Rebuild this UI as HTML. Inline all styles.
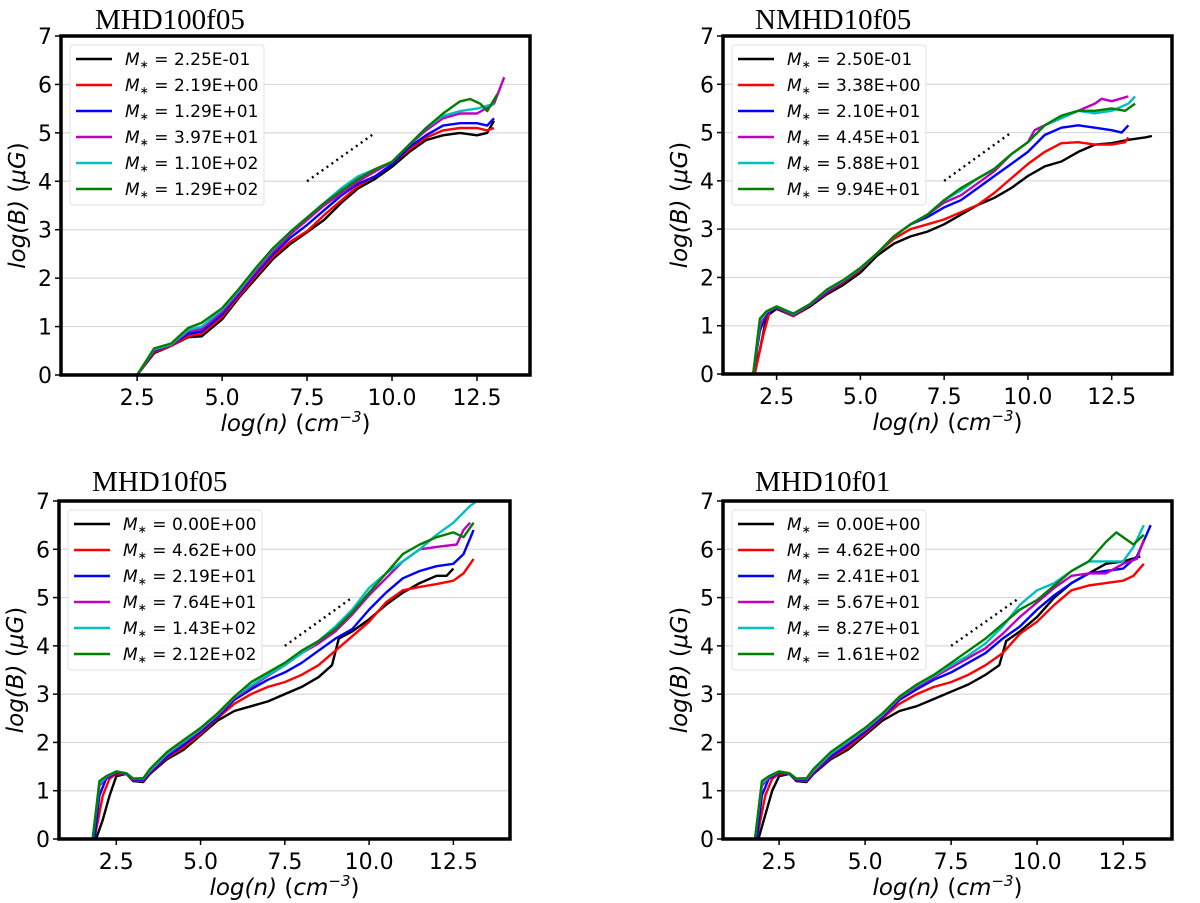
<!DOCTYPE html>
<html><head><meta charset="utf-8"><style>
html,body{margin:0;padding:0;background:#fff;}
svg{display:block;}
</style></head><body>
<svg id="fig" width="1200" height="903" viewBox="0 0 1200 903" xmlns="http://www.w3.org/2000/svg"></svg>
<script>
// ---------- data ----------
const yTicks = [0,1,2,3,4,5,6,7];
const xTickLabels = ["2.5","5.0","7.5","10.0","12.5"];
const xTicks = [2.5,5.0,7.5,10.0,12.5];
const colors = ["#000000","#ff0000","#0000ff","#bf00bf","#00bfbf","#008000"];
const panelTitles = ["MHD100f05","NMHD10f05","MHD10f05","MHD10f01"];
const legendTL = ["2.25E-01","2.19E+00","1.29E+01","3.97E+01","1.10E+02","1.29E+02"];
const legendTR = ["2.50E-01","3.38E+00","2.10E+01","4.45E+01","5.88E+01","9.94E+01"];
const legendBL = ["0.00E+00","4.62E+00","2.19E+01","7.64E+01","1.43E+02","2.12E+02"];
const legendBR = ["0.00E+00","4.62E+00","2.41E+01","5.67E+01","8.27E+01","1.61E+02"];
const slopeLineX = [7.5, 9.5];
const slopeLineY = [4, 5];

// Top-left series
const tl_x = [2.5,3.0,3.5,4.0,4.4,5.0,5.5,6.0,6.5,7.0,7.5,8.0,8.5,9.0,9.5,10,10.5,11,11.5,12,12.5,12.8,13.0];
const tl_black = [0,0.45,0.6,0.78,0.8,1.15,1.6,2.0,2.4,2.7,2.95,3.2,3.55,3.85,4.05,4.3,4.6,4.85,4.95,5.0,4.95,5.0,5.25];
const tl_red   = [0,0.47,0.6,0.8,0.85,1.2,1.63,2.05,2.45,2.75,2.97,3.3,3.6,3.9,4.1,4.35,4.65,4.9,5.05,5.1,5.1,5.05,5.1];
const tl_blue  = [0,0.5,0.62,0.85,0.9,1.25,1.68,2.1,2.5,2.83,3.1,3.4,3.7,3.95,4.1,4.35,4.7,4.95,5.15,5.2,5.2,5.15,5.3];
const tl_mag_x = [2.5,3.0,3.5,4.0,4.4,5.0,5.5,6.0,6.5,7.0,7.5,8.0,8.5,9.0,9.5,10,10.5,11,11.5,12,12.5,13.0,13.3];
const tl_mag   = [0,0.52,0.62,0.9,0.95,1.3,1.72,2.15,2.55,2.9,3.2,3.5,3.75,4.0,4.2,4.4,4.75,5.05,5.3,5.4,5.4,5.6,6.15];
const tl_cyan_x= [2.5,3.0,3.5,4.0,4.4,5.0,5.5,6.0,6.5,7.0,7.5,8.0,8.5,9.0,9.5,10,10.5,11,11.5,12,12.5,13.0];
const tl_cyan  = [0,0.53,0.63,0.93,1.0,1.35,1.75,2.2,2.6,2.95,3.25,3.55,3.85,4.1,4.25,4.4,4.75,5.1,5.35,5.45,5.5,5.6];
const tl_green_x=[2.5,3.0,3.5,4.0,4.4,5.0,5.5,6.0,6.5,7.0,7.5,8.0,8.5,9.0,9.5,10,10.5,11,11.5,12,12.3,12.6,12.8,13.1];
const tl_green = [0,0.55,0.65,0.97,1.08,1.38,1.78,2.22,2.62,2.95,3.25,3.55,3.8,4.05,4.25,4.4,4.75,5.1,5.4,5.65,5.7,5.6,5.45,5.8];

// Top-right series
const tr_bx = [1.8,2.0,2.2,2.5,3.0,3.5,4,4.5,5,5.5,6,6.5,7,7.5,8,8.5,9,9.5,10,10.5,11,11.5,12,12.5,13,13.5,13.7];
const tr_black = [0,0.5,1.2,1.35,1.2,1.4,1.65,1.85,2.1,2.45,2.7,2.85,2.95,3.1,3.3,3.5,3.65,3.85,4.1,4.3,4.4,4.6,4.75,4.78,4.85,4.9,4.93];
const tr_rx = [1.85,2.1,2.3,2.5,3.0,3.5,4,4.5,5,5.5,6,6.5,7,7.5,8,8.5,9,9.5,10,10.5,11,11.5,12,12.5,12.9,13.0];
const tr_red   = [0,0.8,1.3,1.37,1.2,1.42,1.68,1.9,2.15,2.5,2.8,3.0,3.1,3.2,3.35,3.5,3.75,4.05,4.35,4.6,4.78,4.8,4.75,4.75,4.8,4.9];
const tr_ux = [1.8,2.0,2.2,2.5,3.0,3.5,4,4.5,5,5.5,6,6.5,7,7.5,8,8.5,9,9.5,10,10.5,11,11.5,12,12.5,12.8,13.0];
const tr_blue  = [0,0.9,1.25,1.38,1.22,1.43,1.7,1.92,2.17,2.5,2.85,3.1,3.25,3.45,3.6,3.85,4.1,4.35,4.6,4.95,5.1,5.15,5.1,5.05,5.0,5.15];
const tr_mx = [1.8,2.0,2.2,2.5,3.0,3.5,4,4.5,5,5.5,6,6.5,7,7.5,8,8.5,9,9.5,10,10.2,10.5,11,11.5,12,12.2,12.5,13.0];
const tr_mag   = [0,1.0,1.28,1.39,1.23,1.44,1.72,1.93,2.18,2.5,2.85,3.1,3.3,3.55,3.7,3.95,4.2,4.55,4.8,5.05,5.15,5.3,5.45,5.6,5.7,5.65,5.75];
const tr_cx = [1.8,2.0,2.2,2.5,3.0,3.5,4,4.5,5,5.5,6,6.5,7,7.5,8,8.5,9,9.5,10,10.5,11,11.5,12,12.5,13.0,13.2];
const tr_cyan  = [0,1.1,1.29,1.4,1.24,1.45,1.74,1.94,2.19,2.5,2.85,3.1,3.3,3.6,3.8,4.05,4.25,4.55,4.8,5.15,5.3,5.45,5.4,5.45,5.6,5.75];
const tr_gx = [1.8,2.0,2.2,2.5,3.0,3.5,4,4.5,5,5.5,6,6.5,7,7.5,8,8.5,9,9.5,10,10.5,11,11.5,12,12.5,12.9,13.2];
const tr_green = [0,1.15,1.3,1.4,1.25,1.45,1.75,1.95,2.2,2.5,2.85,3.1,3.3,3.6,3.85,4.05,4.25,4.55,4.8,5.15,5.35,5.45,5.45,5.5,5.45,5.6];

// Bottom-left series
const bl_bx = [1.9,2.1,2.3,2.5,2.8,3.0,3.3,3.5,4,4.5,5,5.5,6,6.5,7,7.5,8,8.5,8.9,9.1,9.5,10,10.5,11,11.5,12,12.3,12.5];
const bl_black = [0,0.4,0.9,1.3,1.35,1.2,1.18,1.35,1.65,1.85,2.15,2.45,2.65,2.75,2.85,3.0,3.15,3.35,3.6,4.15,4.3,4.55,4.85,5.1,5.3,5.45,5.45,5.6];
const bl_rx = [1.85,2.1,2.3,2.5,2.8,3.0,3.3,3.5,4,4.5,5,5.5,6,6.5,7,7.5,8,8.5,9,9.5,10,10.5,11,11.5,12,12.5,12.8,13.1];
const bl_red   = [0,0.9,1.25,1.35,1.35,1.22,1.2,1.37,1.68,1.9,2.18,2.5,2.8,3.0,3.15,3.25,3.4,3.6,3.9,4.2,4.5,4.9,5.15,5.22,5.28,5.35,5.5,5.8];
const bl_ux = [1.85,2.0,2.2,2.5,2.8,3.0,3.3,3.5,4,4.5,5,5.5,6,6.5,7,7.5,8,8.5,9,9.5,10,10.5,11,11.5,12,12.5,12.8,13.1];
const bl_blue  = [0,0.9,1.25,1.37,1.35,1.23,1.22,1.38,1.7,1.95,2.22,2.52,2.88,3.1,3.3,3.45,3.65,3.9,4.15,4.35,4.75,5.1,5.4,5.55,5.65,5.7,5.9,6.4];
const bl_mx = [1.8,2.0,2.2,2.5,2.8,3.0,3.3,3.5,4,4.5,5,5.5,6,6.5,7,7.5,8,8.5,9,9.5,10,10.5,11,11.5,12,12.6,12.8,13.0];
const bl_mag   = [0,1.1,1.28,1.39,1.36,1.24,1.24,1.4,1.75,2.0,2.26,2.56,2.92,3.15,3.38,3.6,3.85,4.05,4.3,4.65,5.05,5.4,5.75,6.0,6.05,6.1,6.4,6.55];
const bl_cx = [1.8,2.0,2.2,2.5,2.8,3.0,3.3,3.5,4,4.5,5,5.5,6,6.5,7,7.5,8,8.5,9,9.5,10,10.5,11,11.5,12,12.5,13.0,13.2];
const bl_cyan  = [0,1.15,1.29,1.4,1.36,1.25,1.25,1.42,1.77,2.02,2.28,2.58,2.94,3.18,3.4,3.6,3.85,4.1,4.4,4.75,5.2,5.5,5.75,6.0,6.3,6.55,6.9,7.0];
const bl_gx = [1.8,2.0,2.2,2.5,2.8,3.0,3.3,3.5,4,4.5,5,5.5,6,6.5,7,7.5,8,8.5,9,9.5,10,10.5,11,11.5,12,12.5,12.8,13.1];
const bl_green = [0,1.2,1.3,1.4,1.36,1.25,1.26,1.45,1.8,2.05,2.3,2.6,2.95,3.25,3.45,3.65,3.9,4.1,4.35,4.7,5.1,5.5,5.9,6.1,6.25,6.35,6.25,6.55];

// Bottom-right series
const br_bx = [1.9,2.1,2.3,2.5,2.8,3.0,3.3,3.5,4,4.5,5,5.5,6,6.5,7,7.5,8,8.5,8.9,9.1,9.5,10,10.5,11,11.5,12,12.5,13.0];
const br_black = [0,0.5,1.0,1.3,1.35,1.2,1.18,1.35,1.65,1.85,2.15,2.45,2.65,2.75,2.9,3.05,3.2,3.4,3.6,4.1,4.3,4.6,5.0,5.3,5.5,5.7,5.75,5.85];
const br_rx = [1.85,2.1,2.3,2.5,2.8,3.0,3.3,3.5,4,4.5,5,5.5,6,6.5,7,7.5,8,8.5,9,9.5,10,10.5,11,11.5,12,12.5,12.8,13.1];
const br_red   = [0,0.9,1.25,1.35,1.35,1.22,1.2,1.37,1.68,1.9,2.18,2.5,2.8,3.0,3.15,3.25,3.4,3.6,3.85,4.25,4.5,4.85,5.15,5.25,5.3,5.35,5.45,5.7];
const br_ux = [1.85,2.0,2.2,2.5,2.8,3.0,3.3,3.5,4,4.5,5,5.5,6,6.5,7,7.5,8,8.5,9,9.5,10,10.5,11,11.5,12,12.5,12.9,13.3];
const br_blue  = [0,0.9,1.25,1.37,1.35,1.23,1.22,1.38,1.7,1.95,2.22,2.52,2.88,3.1,3.3,3.45,3.65,3.85,4.15,4.4,4.75,5.05,5.3,5.5,5.55,5.6,5.85,6.5];
const br_mx = [1.8,2.0,2.2,2.5,2.8,3.0,3.3,3.5,4,4.5,5,5.5,6,6.5,7,7.5,8,8.5,9,9.5,10,10.5,11,11.5,12,12.5,12.9,13.1];
const br_mag   = [0,1.1,1.28,1.39,1.36,1.24,1.24,1.4,1.75,2.0,2.26,2.56,2.92,3.15,3.35,3.55,3.75,3.95,4.25,4.6,4.9,5.2,5.45,5.5,5.5,5.7,5.8,6.2];
const br_cx = [1.8,2.0,2.2,2.5,2.8,3.0,3.3,3.5,4,4.5,5,5.5,6,6.5,7,7.5,8,8.5,9,9.5,10,10.5,11,11.5,12,12.5,12.8,13.1];
const br_cyan  = [0,1.15,1.29,1.4,1.36,1.25,1.25,1.42,1.77,2.02,2.28,2.58,2.94,3.18,3.38,3.6,3.8,4.05,4.4,4.85,5.15,5.3,5.55,5.75,5.75,5.75,6.05,6.5];
const br_gx = [1.8,2.0,2.2,2.5,2.8,3.0,3.3,3.5,4,4.5,5,5.5,6,6.5,7,7.5,8,8.5,9,9.5,10,10.5,11,11.5,12,12.3,12.6,12.8,13.1];
const br_green = [0,1.2,1.3,1.4,1.36,1.25,1.26,1.45,1.8,2.05,2.3,2.6,2.95,3.2,3.4,3.65,3.9,4.15,4.45,4.75,4.95,5.25,5.55,5.75,6.15,6.35,6.2,6.1,6.3];

// ---------- layout ----------
const panels = [
  {key:"top-left", L:61, T:36, R:530, B:375, xmin:0.26, xmax:14.06, title:panelTitles[0], tx:95, ty:29, legend:legendTL,
   series:[[tl_x,tl_black],[tl_x,tl_red],[tl_x,tl_blue],[tl_mag_x,tl_mag],[tl_cyan_x,tl_cyan],[tl_green_x,tl_green]]},
  {key:"top-right", L:723, T:36, R:1172, B:374, xmin:0.9, xmax:14.3, title:panelTitles[1], tx:755, ty:29, legend:legendTR,
   series:[[tr_bx,tr_black],[tr_rx,tr_red],[tr_ux,tr_blue],[tr_mx,tr_mag],[tr_cx,tr_cyan],[tr_gx,tr_green]]},
  {key:"bottom-left", L:59, T:501, R:510, B:839, xmin:0.8, xmax:14.18, title:panelTitles[2], tx:92, ty:491, legend:legendBL,
   series:[[bl_bx,bl_black],[bl_rx,bl_red],[bl_ux,bl_blue],[bl_mx,bl_mag],[bl_cx,bl_cyan],[bl_gx,bl_green]]},
  {key:"bottom-right", L:723, T:501, R:1172, B:839, xmin:0.87, xmax:13.92, title:panelTitles[3], tx:755, ty:491, legend:legendBR,
   series:[[br_bx,br_black],[br_rx,br_red],[br_ux,br_blue],[br_mx,br_mag],[br_cx,br_cyan],[br_gx,br_green]]}
];
const NS = "http://www.w3.org/2000/svg";
const svg = document.getElementById("fig");
function mk(tag, attrs, parent){
  const e = document.createElementNS(NS, tag);
  for (const k in attrs) e.setAttribute(k, attrs[k]);
  (parent||svg).appendChild(e);
  return e;
}
const FONT = "'DejaVu Sans','Liberation Sans',sans-serif";

panels.forEach(p => {
  const g = mk("g", {});
  
  
  const sx = v => p.L + (v - p.xmin) / (p.xmax - p.xmin) * (p.R - p.L);
  const sy = v => p.B - v / 7 * (p.B - p.T);

  yTicks.forEach(t => {
    if (t === 0 || t === 7) return;
    const gl = mk("line", {x1:p.L, x2:p.R, y1:sy(t), y2:sy(t), stroke:"#d9d9d9", "stroke-width":1.2}, g);
    
    
  });

  p.series.forEach((s, i) => {
    const [xs, ys] = s;
    const pts = xs.map((x, j) => sx(x).toFixed(1) + "," + sy(ys[j]).toFixed(1)).join(" ");
    const pl = mk("polyline", {points:pts, fill:"none", stroke:colors[i], "stroke-width":2.4, "stroke-linejoin":"round"}, g);
    
    
  });

  const dl = mk("line", {x1:sx(slopeLineX[0]), y1:sy(slopeLineY[0]), x2:sx(slopeLineX[1]), y2:sy(slopeLineY[1]), stroke:"#000", "stroke-width":2.4, "stroke-dasharray":"2,4"}, g);
  
  

  const box = mk("rect", {x:p.L, y:p.T, width:p.R-p.L, height:p.B-p.T, fill:"none", stroke:"#000", "stroke-width":3.5}, g);
  
  

  yTicks.forEach(t => {
    mk("line", {x1:p.L-6, x2:p.L, y1:sy(t), y2:sy(t), stroke:"#000", "stroke-width":1.5}, g);
    const tl = mk("text", {x:p.L-9, y:sy(t)+8, "text-anchor":"end", "font-family":FONT, "font-size":22, fill:"#000"}, g);
    tl.textContent = t;
    
    
  });
  xTicks.forEach((t, i) => {
    mk("line", {x1:sx(t), x2:sx(t), y1:p.B, y2:p.B+6, stroke:"#000", "stroke-width":1.5}, g);
    const tl = mk("text", {x:sx(t), y:p.B+30, "text-anchor":"middle", "font-family":FONT, "font-size":22, fill:"#000"}, g);
    tl.textContent = xTickLabels[i];
    
    
  });

  const cx = (p.L + p.R) / 2;
  const xt = mk("text", {x:cx, y:p.B+56, "text-anchor":"middle", "font-family":FONT, "font-size":23, "font-style":"italic", fill:"#000"}, g);
  xt.innerHTML = 'log(n)<tspan font-style="normal"> (</tspan>cm<tspan dy="-9" font-size="15">−3</tspan><tspan dy="9" font-style="normal">)</tspan>';
  
  
  const cy = (p.T + p.B) / 2;
  const yx = p.L - 36;
  const yt = mk("text", {x:yx, y:cy, "text-anchor":"middle", "font-family":FONT, "font-size":23, "font-style":"italic", fill:"#000", transform:`rotate(-90 ${yx} ${cy})`}, g);
  yt.innerHTML = 'log(B)<tspan font-style="normal"> (</tspan>μG<tspan font-style="normal">)</tspan>';
  
  

  const tt = mk("text", {x:p.tx, y:p.ty, "font-family":"'Liberation Serif',serif", "font-size":29, fill:"#000"}, g);
  tt.textContent = p.title;
  
  

  const lx = p.L + 9, ly = p.T + 9;
  const lg = mk("g", {}, g);
  
  
  mk("rect", {x:lx, y:ly, width:194, height:160, rx:3, fill:"#fff", "fill-opacity":0.85, stroke:"#e0e0e0", "stroke-width":1}, lg);
  p.legend.forEach((lab, i) => {
    const ry = ly + 14 + i * 26;
    const ent = mk("g", {}, lg);
    
    
    mk("line", {x1:lx+6, x2:lx+42, y1:ry, y2:ry, stroke:colors[i], "stroke-width":2.6}, ent);
    const t = mk("text", {x:lx+55, y:ry+6, "font-family":FONT, "font-size":17, fill:"#000"}, ent);
    t.innerHTML = '<tspan font-style="italic">M</tspan><tspan font-size="11" dy="3">∗</tspan><tspan dy="-3"> = ' + lab + '</tspan>';
  });
});
</script>
</body></html>
